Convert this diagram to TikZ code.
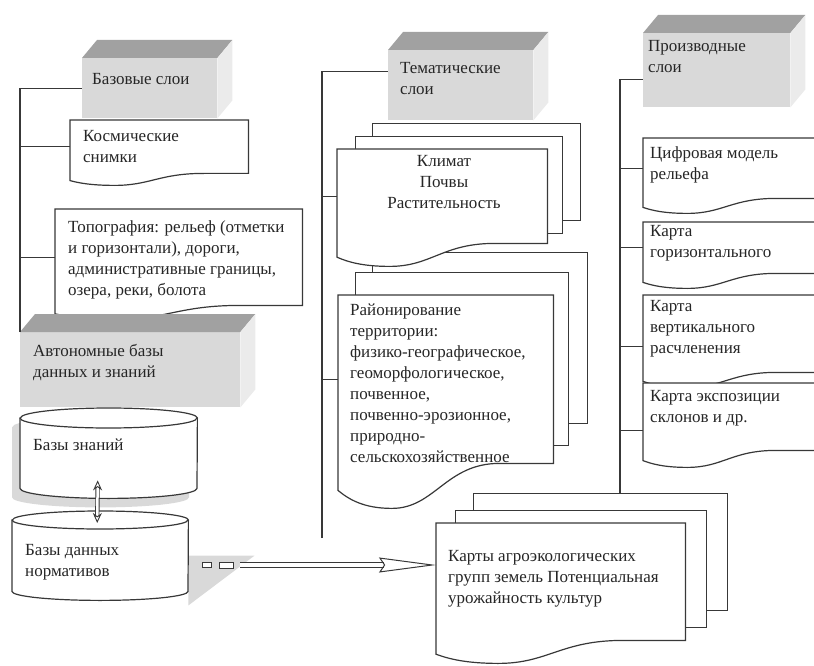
\documentclass[tikz,border=0pt]{standalone}
\usepackage{fontspec}
\setmainfont{Liberation Serif}
\usetikzlibrary{calc,arrows.meta}
\newcommand{\boxfont}{\fontsize{17}{21}\selectfont}
\tikzset{
    line/.style ={
        draw=black!78,
        line width=1.2pt
    },
    front/.style ={
        anchor=north west,
        inner sep=0pt,
        fill=black!15
    },
    topface/.style ={fill=black!37},
    sideface/.style ={fill=black!8},
    doc/.style ={
        anchor=north west,
        inner sep=0pt
    },
    sheet/.style ={
        anchor=north west,
        inner sep=0pt,
        draw=black!78,
        line width=1.2pt,
        fill=white
    },
    txt/.style ={
        anchor=north west,
        align=left,
        inner sep=0pt,
        font=\boxfont,
        text=black!85
    },
    shade/.style ={fill=black!15},
    tail/.style ={
        draw=black!78,
        line width=0.9pt,
        fill=white,
        inner sep=0pt
    },
    link/.style ={
        draw=black!78,
        double,
        double distance=3.5pt,
        line width=1pt,
        -{Stealth[open,length=57pt,width=15pt,inset=5pt]}
    },
    updown/.style ={
        draw=black!78,
        double,
        double distance=2.5pt,
        line width=0.9pt,
        {Stealth[open,length=10pt,width=9pt]}-{Stealth[open,length=10pt,width=9pt]}
    }
}
\newcommand{\block}[1]{
    \fill[topface] (#1.north west) -- ++(15,-18) -- ($(#1.north east)+(15,-18)$) -- (#1.north east) -- cycle;
    \fill[sideface] (#1.north east) -- ++(15,-18) -- ($(#1.south east)+(15,-18)$) -- (#1.south east) -- cycle;
}
\newcommand{\docshape}[2]{
    \draw[line, fill=white] (#1.north west) -- (#1.north east) -- (#1.south east)
        -- ($(#1.south west)!0.75!(#1.south east)$)
        .. controls ($(#1.south west)!0.5!(#1.south east)$) and ($(#1.south west)!0.45!(#1.south east)+(0,#2)$) .. ($(#1.south west)!0.25!(#1.south east)+(0,#2)$)
        .. controls ($(#1.south west)!0.12!(#1.south east)+(0,#2)$) and ($(#1.south west)!0.05!(#1.south east)+(0,0.8*#2)$) .. ($(#1.south west)+(0,0.6*#2)$)
        -- cycle;
}
\newcommand{\cylshape}[3]{
    \draw[line, fill=white] (#1.north west) -- (#1.south west) arc[start angle=180, end angle=360, x radius=#2pt, y radius=#3pt]
        -- (#1.north east) arc[start angle=0, end angle=180, x radius=#2pt, y radius=#3pt] -- cycle;
    \draw[line] (#1.north west) arc[start angle=180, end angle=360, x radius=#2pt, y radius=#3pt];
}

\begin{document}
\begin{tikzpicture}[x=1pt,y=-1pt]
    \useasboundingbox (0,0) rectangle (814,666);

    \node[front, minimum width=135, minimum height=60] (bazovye) at (82,58) {};
    \block{bazovye}
    \node[txt] (bazovye-t) at (92,73) {Базовые слои};
    \node[doc, minimum width=178, minimum height=53] (kosm) at (70,120) {};
    \docshape{kosm}{12}
    \node[txt] (kosm-t) at (83,130) {Космические\\снимки};
    \node[doc, minimum width=247, minimum height=96] (topo) at (55,209) {};
    \docshape{topo}{14}
    \node[txt] (topo-t) at (68,221) {Топография: рельеф (отметки\\и горизонтали), дороги,\\административные границы,\\озера, реки, болота};
    \node[front, minimum width=220, minimum height=75] (avton) at (20,332) {};
    \block{avton}
    \node[txt] (avton-t) at (33,344) {Автономные базы\\данных и знаний};

    \node[doc, minimum width=177, minimum height=70] (bz) at (20,418) {};
    \fill[shade, transform canvas={shift={(-8pt,-9pt)}}] (bz.north west) -- (bz.south west)
        arc[start angle=180, end angle=360, x radius=88.5pt, y radius=10pt] -- (bz.north east)
        arc[start angle=0, end angle=180, x radius=88.5pt, y radius=10pt] -- cycle;
    \cylshape{bz}{88.5}{10}
    \node[txt] (bz-t) at (33,439) {Базы знаний};
    \node[doc, minimum width=176, minimum height=71] (bd) at (12,520) {};
    \fill[shade] (bd.east) -- ++(66,0) -- ($(bd.south east)+(0,14)$) -- cycle;
    \cylshape{bd}{88}{9}
    \node[txt] (bd-t) at (25,544) {Базы данных\\нормативов};
    \draw[updown] ([xshift=-11,yshift=8]bz.south) -- ([xshift=-3,yshift=-3]bd.north);

    \node[front, minimum width=145, minimum height=70] (temat) at (388,50) {};
    \block{temat}
    \node[txt] (temat-t) at (400,62) {Тематические\\слои};
    \node[sheet, minimum width=215, minimum height=171] (rajon3) at (372,252) {};
    \node[sheet, minimum width=213, minimum height=173] (rajon2) at (355,272) {};
    \node[doc, minimum width=215, minimum height=168] (rajon) at (338,295) {};
    \docshape{rajon}{45}
    \node[txt] (rajon-t) at (350,304) {Районирование\\территории:\\физико-географическое,\\геоморфологическое,\\почвенное,\\почвенно-эрозионное,\\природно-\\сельскохозяйственное};
    \node[sheet, minimum width=208, minimum height=97] (klimat3) at (372,123) {};
    \node[sheet, minimum width=207, minimum height=97] (klimat2) at (355,136) {};
    \node[doc, minimum width=210, minimum height=94] (klimat) at (337,149) {};
    \docshape{klimat}{23}
    \node[txt, anchor=north, align=center] (klimat-t) at (444,155) {Климат\\Почвы\\Растительность};

    \node[sheet, minimum width=254, minimum height=117] (kart3) at (473,493) {};
    \node[sheet, minimum width=251, minimum height=117] (kart2) at (455,510) {};
    \node[doc, minimum width=249, minimum height=117] (kart) at (436,523) {};
    \docshape{kart}{23}
    \node[txt] (kart-t) at (448,550) {Карты агроэкологических\\групп земель Потенциальная\\урожайность культур};

    \node[front, minimum width=147, minimum height=74] (proizv) at (643,33) {};
    \block{proizv}
    \node[txt] (proizv-t) at (648,40) {Производные\\слои};
    \node[doc, minimum width=177, minimum height=60] (cifr) at (643,138) {};
    \docshape{cifr}{15}
    \node[txt] (cifr-t) at (650,147) {Цифровая модель\\рельефа};
    \node[doc, minimum width=177, minimum height=51] (gor) at (643,222) {};
    \docshape{gor}{15}
    \node[txt] (gor-t) at (650,225) {Карта\\горизонтального};
    \node[doc, minimum width=177, minimum height=77] (vert) at (643,295) {};
    \docshape{vert}{15}
    \node[txt] (vert-t) at (650,300) {Карта\\вертикального\\расчленения};
    \node[doc, minimum width=177, minimum height=67] (eksp) at (643,383) {};
    \docshape{eksp}{17}
    \node[txt] (eksp-t) at (650,390) {Карта экспозиции\\склонов и др.};

    \draw[line] (avton.north west) |- (bazovye.west);
    \draw[line] (avton.north west |- kosm.west) -- (kosm.west);
    \draw[line] (avton.north west |- topo.west) -- (topo.west);

    \coordinate (mt) at (322,538);
    \coordinate (temat-in) at ($(temat.west)+(0,-14)$);
    \draw[line] (mt) |- (temat-in);
    \draw[line] (mt |- klimat.west) -- (klimat.west);
    \draw[line] (mt |- rajon.west) -- (rajon.west);

    \coordinate (rt) at (620,493);
    \coordinate (proizv-in) at ($(proizv.west)+(0,9)$);
    \coordinate (vert-in) at ($(vert.west)+(0,13)$);
    \coordinate (eksp-in) at ($(eksp.west)+(0,14)$);
    \draw[line] (rt) |- (proizv-in);
    \draw[line] (rt |- cifr.west) -- (cifr.west);
    \draw[line] (rt |- gor.west) -- (gor.west);
    \draw[line] (rt |- vert-in) -- (vert-in);
    \draw[line] (rt |- eksp-in) -- (eksp-in);

    \node[tail, minimum width=9, minimum height=5] (sq1) at (207,565) {};
    \node[tail, minimum width=14, minimum height=6] (sq2) at (226,565) {};
    \draw[link] ([xshift=7]sq2.east) -- (sq2.east -| kart.west);
\end{tikzpicture}
\end{document}
